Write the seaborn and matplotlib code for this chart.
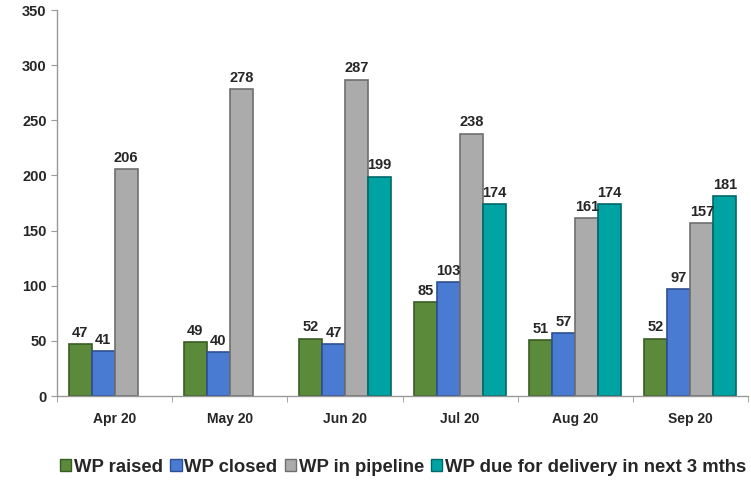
import numpy as np
import pandas as pd
import matplotlib
matplotlib.use("Agg")
import matplotlib.pyplot as plt
import seaborn as sns

months = ["Apr 20", "May 20", "Jun 20", "Jul 20", "Aug 20", "Sep 20"]
series = ["WP raised", "WP closed", "WP in pipeline", "WP due for delivery in next 3 mths"]
wp_raised = [47, 49, 52, 85, 51, 52]
wp_closed = [41, 40, 47, 103, 57, 97]
wp_pipeline = [206, 278, 287, 238, 161, 157]
wp_due = [np.nan, np.nan, 199, 174, 174, 181]
colors = ["#5a8a3a", "#4a7bd2", "#ababab", "#00a3a3"]
edges = ["#3a5c24", "#2d4f91", "#6e6e6e", "#006868"]

sns.set_style("white")
plt.rcParams["font.family"] = ["Liberation Sans", "DejaVu Sans"]
plt.rcParams["font.weight"] = "bold"

rows = []
for name, vals in zip(series, [wp_raised, wp_closed, wp_pipeline, wp_due]):
    for m, v in zip(months, vals):
        rows.append({"month": m, "series": name, "value": v})
df = pd.DataFrame(rows)

fig = plt.figure(figsize=(7.51, 4.8), dpi=100)
ax = fig.add_axes([0.076, 0.175, 0.92, 0.804])

sns.barplot(data=df, x="month", y="value", hue="series", hue_order=series,
            order=months, palette=colors, saturation=1, width=0.8, gap=0,
            ax=ax, errorbar=None)

for cont, ec in zip(ax.containers, edges):
    for p in cont.patches:
        p.set_edgecolor(ec)
        p.set_linewidth(1.2)
    ax.bar_label(cont, fmt="{:.0f}", padding=3, fontsize=10.5, fontweight="bold")

ax.set_ylim(0, 350)
ax.set_xlim(-0.5, len(months) - 0.5)
ax.set_yticks(range(0, 351, 50))
ax.set_xlabel("")
ax.set_ylabel("")
ax.tick_params(axis="x", labelsize=10)
ax.tick_params(axis="y", labelsize=10.5, left=True, length=4, color="#999999")
ax.tick_params(axis="x", bottom=False, pad=8)
ax.set_xticks(np.arange(-0.5, len(months), 1), minor=True)
ax.tick_params(axis="x", which="minor", bottom=True, length=4, color="#999999")
for lab in ax.get_xticklabels() + ax.get_yticklabels():
    lab.set_fontweight("bold")

for s in ["top", "right"]:
    ax.spines[s].set_visible(False)
for s in ["left", "bottom"]:
    ax.spines[s].set_color("#999999")
    ax.spines[s].set_linewidth(1)

ax.legend_.remove()
handles = [plt.Rectangle((0, 0), 1, 1, facecolor=c, edgecolor=e, linewidth=1)
           for c, e in zip(colors, edges)]
fig.legend(handles, series, loc="center", bbox_to_anchor=(0.537, 0.027), ncol=4,
           frameon=False, handlelength=0.6, handleheight=0.6, handletextpad=0.15,
           columnspacing=0.4, prop={"size": 13.3, "weight": "bold"})

fig.savefig("out.png", dpi=100)
